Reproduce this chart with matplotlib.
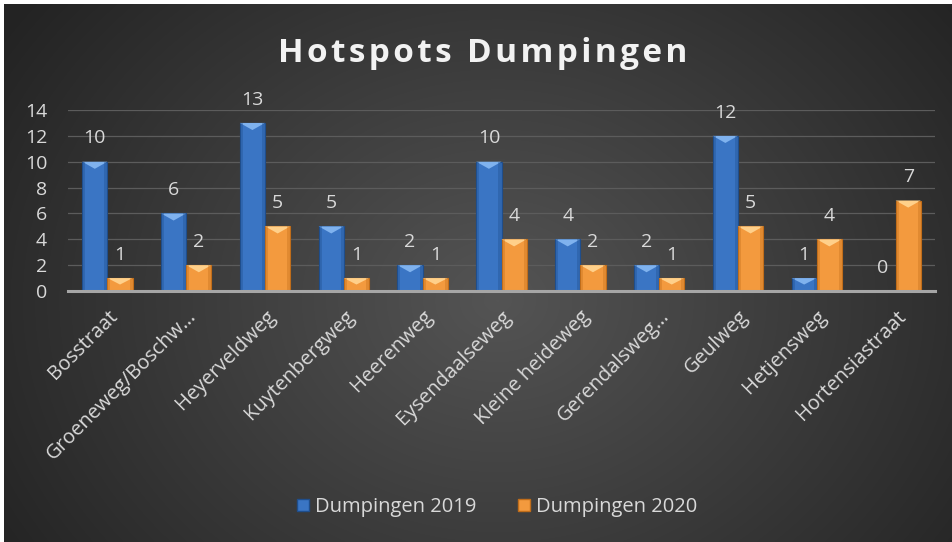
import numpy as np
import matplotlib
matplotlib.use("Agg")
import matplotlib.pyplot as plt
from matplotlib.patches import Polygon
from matplotlib.lines import Line2D

categories = ["Bosstraat", "Groeneweg/Boschw…", "Heyerveldweg", "Kuytenbergweg",
              "Heerenweg", "Eysendaalseweg", "Kleine heideweg", "Gerendalsweg…",
              "Geulweg", "Hetjensweg", "Hortensiastraat"]
dump2019 = [10, 6, 13, 5, 2, 10, 4, 2, 12, 1, 0]
dump2020 = [1, 2, 5, 1, 1, 4, 2, 1, 5, 4, 7]
series_names = ["Dumpingen 2019", "Dumpingen 2020"]
yticks = [0, 2, 4, 6, 8, 10, 12, 14]
title = "Hotspots Dumpingen"

FONT = "Open Sans"
TXT = "#d9d9d9"
BLUE = "#3a75c4"
ORANGE = "#f39a3e"
FS = 14

fig = plt.figure(figsize=(9.52, 5.42), dpi=100)
fig.patch.set_facecolor("white")

# background with radial gradient
bg = fig.add_axes([4/952, 0, 948/952, 538/542])
bg.set_axis_off()
h, w = 300, 520
yy, xx = np.mgrid[0:h, 0:w]
cx, cy = w*0.52, h*0.55
r = np.sqrt(((xx-cx)/(w*0.62))**2 + ((yy-cy)/(h*0.9))**2)
r = np.clip(r, 0, 1)
val = 0.33 - 0.19*r
img = np.dstack([val, val, val])
bg.imshow(img, aspect="auto", extent=[0, 1, 0, 1], interpolation="bilinear")
bg.set_xlim(0, 1); bg.set_ylim(0, 1)

ax = fig.add_axes([68/952, 1-291/542, (935-68)/952, (291-110)/542])
ax.set_facecolor("none")
x = np.arange(len(categories))
bw = 0.32

def draw_bars(xpos, vals, color, dark, light):
    bars = ax.bar(xpos, vals, width=bw, color=color, edgecolor=dark, linewidth=0.8, zorder=3)
    for b in bars:
        hgt = b.get_height()
        if hgt <= 0:
            continue
        x0 = b.get_x(); wd = b.get_width()
        tri_h = min(0.55, hgt*0.5)
        ax.add_patch(Polygon([[x0, hgt], [x0+wd, hgt], [x0+wd/2, hgt-tri_h]],
                             closed=True, facecolor=light, edgecolor="none", zorder=4))
        ax.add_patch(Polygon([[x0, 0], [x0+wd*0.12, 0], [x0+wd*0.12, hgt], [x0, hgt]],
                             closed=True, facecolor=dark, alpha=0.35, edgecolor="none", zorder=4))
        ax.add_patch(Polygon([[x0+wd*0.88, 0], [x0+wd, 0], [x0+wd, hgt], [x0+wd*0.88, hgt]],
                             closed=True, facecolor=dark, alpha=0.35, edgecolor="none", zorder=4))
    return bars

draw_bars(x - bw/2, dump2019, BLUE, "#1f4e8c", "#7fb2ee")
draw_bars(x + bw/2, dump2020, ORANGE, "#c06d1a", "#ffd08a")

for xs, vals in ((x - bw/2, dump2019), (x + bw/2, dump2020)):
    for xi, v in zip(xs, vals):
        ax.text(xi, v + 1.1, str(v), ha="center", va="bottom", color=TXT,
                fontsize=FS, family=FONT, zorder=5)

ax.set_xlim(-0.5, len(categories) - 0.5)
ax.set_ylim(0, 14)
ax.set_yticks(yticks)
ax.grid(axis="y", color="#5c5c5c", linewidth=0.9, zorder=0)
ax.set_axisbelow(True)
for s in ["top", "right", "left"]:
    ax.spines[s].set_visible(False)
ax.spines["bottom"].set_color("#a6a6a6")
ax.spines["bottom"].set_linewidth(2.2)
ax.spines["bottom"].set_zorder(6)
ax.tick_params(axis="y", length=0, pad=15, labelsize=FS, labelcolor=TXT)
ax.tick_params(axis="x", length=0, pad=11, labelsize=FS + 0.5, labelcolor=TXT)
for lab in ax.get_yticklabels():
    lab.set_family(FONT)
ax.set_xticks(x)
ax.set_xticklabels(categories, rotation=45, ha="right", rotation_mode="anchor", family=FONT)

spaced_title = "\u200a".join(title)
fig.text(483/952, 1-54/542, spaced_title, ha="center", va="center", fontsize=24,
         fontweight="bold", color="#f2f2f2", family=[FONT, "DejaVu Sans"])

handles = [Line2D([0], [0], marker="s", linestyle="none", markersize=8.5,
                  markerfacecolor=BLUE, markeredgecolor="#1f4e8c"),
           Line2D([0], [0], marker="s", linestyle="none", markersize=8.5,
                  markerfacecolor=ORANGE, markeredgecolor="#c06d1a")]
leg = fig.legend(handles, series_names, loc="center", bbox_to_anchor=(490/952, 1-507/542),
                 ncol=2, frameon=False, handletextpad=-0.4, columnspacing=1.4,
                 prop={"family": FONT, "size": 14.5})
for t in leg.get_texts():
    t.set_color(TXT)

fig.savefig("out.png", dpi=100, facecolor=fig.get_facecolor())
